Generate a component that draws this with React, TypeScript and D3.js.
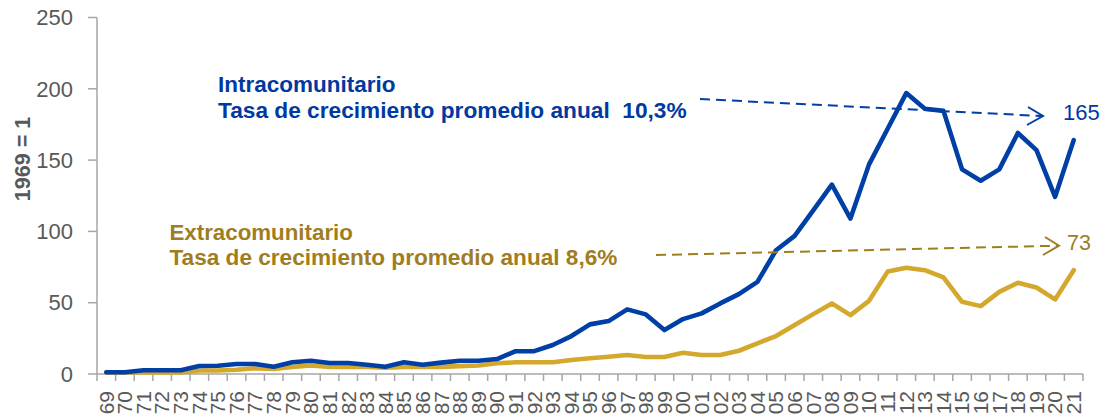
import React from "react";
import * as d3 from "d3";

const years: string[] = [
  "69","70","71","72","73","74","75","76","77","78","79",
  "80","81","82","83","84","85","86","87","88","89",
  "90","91","92","93","94","95","96","97","98","99",
  "00","01","02","03","04","05","06","07","08","09",
  "10","11","12","13","14","15","16","17","18","19","20","21",
];

const intra: number[] = [
  1.2, 1.2, 2.6, 2.6, 2.6, 5.6, 5.8, 7, 7, 5.1, 8.2,
  9.3, 7.7, 7.7, 6.5, 5.1, 8.2, 6.5, 8, 9.3, 9.3,
  10.5, 16, 16, 20.3, 26.6, 34.8, 37.1, 45.3, 41.8, 30.8,
  38.5, 42.5, 49.5, 56, 64.6, 86.8, 96.9, 114.8, 132.8, 109,
  147, 172, 197, 186, 184.5, 143.5, 135.5, 143.5, 169, 157, 124.2, 164,
];

const extra: number[] = [
  1, 1, 1, 1, 1, 2.5, 2.5, 3, 4, 3.5, 5,
  6, 5, 5, 5, 4.5, 5, 5, 5, 5.5, 6,
  7.5, 8.2, 8.2, 8.2, 9.8, 11, 12.1, 13.3, 11.9, 11.9,
  14.9, 13.3, 13.3, 16.3, 21.5, 26.6, 34.3, 42, 49.5, 41.3,
  51.3, 71.8, 74.5, 72.8, 67.7, 50.6, 47.6, 57.6, 64, 60.7, 52.3, 72.8,
];

const yTicks: number[] = [0, 50, 100, 150, 200, 250];

const BLUE = "#003FA6";
const BLUE_TEXT = "#0039A0";
const GOLD = "#D4A82C";
const GOLD_TEXT = "#A07D1E";
const AXIS = "#A6A6A6";
const LABEL = "#595959";

export default function App() {
  const W = 1105;
  const H = 417;
  const x = d3.scaleBand<string>().domain(years).range([97, 1083]).paddingInner(0).paddingOuter(0);
  const y = d3.scaleLinear().domain([0, 250]).range([374, 17.5]);
  const cx = (d: string) => (x(d) as number) + x.bandwidth() / 2;

  const line = d3
    .line<number>()
    .x((_, i) => cx(years[i]))
    .y((v) => y(v));

  const boundaries = years.map((d) => x(d) as number).concat([1083]);

  return (
    <svg
      width={W}
      height={H}
      style={{ position: "absolute", left: 0, top: 0, background: "#fff" }}
      fontFamily="'Liberation Sans', Arial, sans-serif"
    >
      {/* y axis */}
      <line x1={97} x2={97} y1={y(250)} y2={y(0)} stroke={AXIS} strokeWidth={1.5} />
      {yTicks.map((t) => (
        <g key={t}>
          <line x1={88} x2={97} y1={y(t)} y2={y(t)} stroke={AXIS} strokeWidth={1.5} />
          <text x={73} y={y(t)} dy="0.35em" textAnchor="end" fontSize={22} fill={LABEL}>
            {t}
          </text>
        </g>
      ))}
      <text
        transform={`translate(29.5,159) rotate(-90)`}
        textAnchor="middle"
        fontSize={21.5}
        fontWeight="bold"
        fill={LABEL}
      >
        1969 = 1
      </text>

      {/* x axis */}
      <line x1={97} x2={1083} y1={y(0)} y2={y(0)} stroke={AXIS} strokeWidth={1.5} />
      {boundaries.map((b, i) => (
        <line key={i} x1={b} x2={b} y1={y(0)} y2={y(0) + 7} stroke={AXIS} strokeWidth={1.5} />
      ))}
      {years.map((d) => (
        <text
          key={d}
          transform={`translate(${cx(d)},391) rotate(-90)`}
          textAnchor="end"
          dy="0.35em"
          fontSize={21}
          fill={LABEL}
        >
          {d}
        </text>
      ))}

      {/* series */}
      <path d={line(extra) || ""} fill="none" stroke={GOLD} strokeWidth={4.6} strokeLinejoin="round" strokeLinecap="round" />
      <path d={line(intra) || ""} fill="none" stroke={BLUE} strokeWidth={4.6} strokeLinejoin="round" strokeLinecap="round" />

      {/* annotations */}
      <text x={218} y={92} fontSize={22.5} fontWeight="bold" fill={BLUE_TEXT}>
        Intracomunitario
      </text>
      <text x={218} y={118} fontSize={22.7} fontWeight="bold" fill={BLUE_TEXT} style={{ whiteSpace: "pre" }}>
        {"Tasa de crecimiento promedio anual  10,3%"}
      </text>
      <line x1={700} y1={99} x2={1042} y2={116} stroke={BLUE} strokeWidth={2} strokeDasharray="10 6" />
      <polyline points="1028,107 1043,116 1027,125" fill="none" stroke={BLUE} strokeWidth={2} />
      <text x={1063} y={120} fontSize={22} fill={BLUE_TEXT}>
        165
      </text>

      <text x={169.5} y={240} fontSize={22.3} fontWeight="bold" fill={GOLD_TEXT}>
        Extracomunitario
      </text>
      <text x={169.5} y={265} fontSize={22.6} fontWeight="bold" fill={GOLD_TEXT}>
        Tasa de crecimiento promedio anual 8,6%
      </text>
      <line x1={656} y1={255} x2={1058} y2={245.7} stroke={GOLD_TEXT} strokeWidth={2} strokeDasharray="10 6" />
      <polyline points="1045,237 1059,245.7 1043,255" fill="none" stroke={GOLD_TEXT} strokeWidth={2} />
      <text x={1067} y={250} fontSize={21.5} fill={GOLD_TEXT}>
        73
      </text>
    </svg>
  );
}
